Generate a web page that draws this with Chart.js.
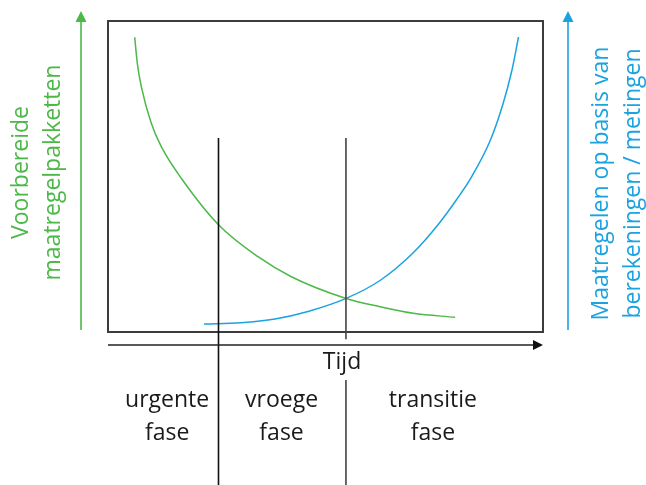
<!DOCTYPE html>
<html>
<head>
<meta charset="utf-8">
<script src="https://cdn.jsdelivr.net/npm/chart.js@4.4.1/dist/chart.umd.min.js"></script>
<style>
  html, body { margin: 0; padding: 0; background: #fff; }
  #wrap { width: 646px; height: 485px; position: relative; }
</style>
</head>
<body>
<div id="wrap"><canvas id="myChart"></canvas></div>
<script>
// time runs 0..100 across the box, level 0..100 up the box
const greenX = [6.14, 6.74, 7.66, 9.95, 12.25, 17.01, 25.45, 34.48, 42.14, 54.75, 62.53, 70.18, 79.77];
const greenY = [94.76, 86.4, 78.87, 67.11, 59.58, 49.1, 34.41, 24.21, 17.78, 10.8, 8.14, 6.01, 4.73];
const blueX = [22.07, 30.57, 38.39, 45.98, 54.75, 62.53, 70.11, 75.63, 80.23, 83.68, 87.82, 90.8, 92.87, 94.37];
const blueY = [2.57, 2.99, 4.18, 6.59, 10.8, 16.56, 25.4, 34.08, 42.77, 50.16, 61.41, 73.31, 84.24, 94.86];

const phaseBounds = [25.4, 54.7];
const phaseTop = 62.4;
const phaseLabels = [["urgente", "fase"], ["vroege", "fase"], ["transitie", "fase"]];
const phaseLabelX = [13.6, 39.9, 74.7];
const timeLabel = "Tijd";
const timeLabelX = 53.8;
const leftTitle = ["Voorbereide", "maatregelpakketten"];
const rightTitle = ["Maatregelen op basis van", "berekeningen / metingen"];

const GREEN = "#4cb848";
const BLUE = "#1ba3e1";
const FONT = '23px "Open Sans"';

function toPoints(xs, ys) {
    return xs.map(function (x, i) { return { x: x, y: ys[i] }; });
}

var line1 = [{ x: phaseBounds[0], y: phaseTop }, { x: phaseBounds[0], y: -50 }];
var line2 = [
    { x: phaseBounds[1], y: phaseTop }, { x: phaseBounds[1], y: -2.3 },
    { x: phaseBounds[1], y: null },
    { x: phaseBounds[1], y: -15.4 }, { x: phaseBounds[1], y: -50 }
];

function arrowHead(ctx, x, y, dir, color, len, half) {
    ctx.save();
    ctx.fillStyle = color;
    ctx.translate(x, y);
    ctx.rotate(dir);
    ctx.beginPath();
    ctx.moveTo(0, 0);
    ctx.lineTo(-len, -half);
    ctx.lineTo(-len, half);
    ctx.closePath();
    ctx.fill();
    ctx.restore();
}

function rotatedLines(ctx, lines, baseX, cy, gap, color) {
    ctx.save();
    ctx.fillStyle = color;
    ctx.font = FONT;
    ctx.textAlign = "center";
    ctx.textBaseline = "alphabetic";
    lines.forEach(function (t, i) {
        ctx.save();
        ctx.translate(baseX + i * gap, cy);
        ctx.rotate(-Math.PI / 2);
        ctx.fillText(t, 0, 0);
        ctx.restore();
    });
    ctx.restore();
}

const decor = {
    id: "decor",
    beforeDatasetsDraw: function (chart) {
        var ctx = chart.ctx, a = chart.chartArea;
        ctx.save();
        ctx.strokeStyle = "#3c3c3c";
        ctx.lineWidth = 2;
        ctx.strokeRect(a.left, a.top, a.right - a.left, a.bottom - a.top);
        ctx.restore();
    },
    afterDraw: function (chart) {
        var ctx = chart.ctx, a = chart.chartArea;
        var xs = chart.scales.x;

        // side arrows
        ctx.save();
        ctx.lineWidth = 1.6;
        ctx.strokeStyle = GREEN;
        ctx.beginPath();
        ctx.moveTo(a.left - 27, a.bottom - 2);
        ctx.lineTo(a.left - 27, a.top - 6);
        ctx.stroke();
        arrowHead(ctx, a.left - 27, a.top - 10, -Math.PI / 2, GREEN, 11, 5.5);
        ctx.strokeStyle = BLUE;
        ctx.beginPath();
        ctx.moveTo(a.right + 25, a.bottom - 2);
        ctx.lineTo(a.right + 25, a.top - 6);
        ctx.stroke();
        arrowHead(ctx, a.right + 25, a.top - 10, -Math.PI / 2, BLUE, 11, 5.5);

        // time arrow
        ctx.strokeStyle = "#222";
        ctx.beginPath();
        ctx.moveTo(a.left, a.bottom + 13);
        ctx.lineTo(a.right - 6, a.bottom + 13);
        ctx.stroke();
        arrowHead(ctx, a.right, a.bottom + 13, 0, "#111", 10, 5);
        ctx.restore();

        // texts
        ctx.save();
        ctx.font = FONT;
        ctx.fillStyle = "#1a1a1a";
        ctx.textAlign = "center";
        ctx.textBaseline = "alphabetic";
        ctx.fillText(timeLabel, xs.getPixelForValue(timeLabelX), a.bottom + 37);
        phaseLabels.forEach(function (pair, i) {
            var px = xs.getPixelForValue(phaseLabelX[i]);
            ctx.fillText(pair[0], px, a.bottom + 75);
            ctx.fillText(pair[1], px, a.bottom + 108);
        });
        ctx.restore();

        var cy = (a.top + a.bottom) / 2;
        rotatedLines(ctx, leftTitle, a.left - 80, cy - 4, 32, GREEN);
        rotatedLines(ctx, rightTitle, a.right + 65, cy + 7, 32, BLUE);
    }
};

new Chart("myChart", {
    type: "scatter",
    data: {
        datasets: [
            { data: line1, showLine: true, borderColor: "#111", borderWidth: 1.6, pointRadius: 0, clip: false, spanGaps: false },
            { data: line2, showLine: true, borderColor: "#444", borderWidth: 1.6, pointRadius: 0, clip: false, spanGaps: false },
            { data: toPoints(greenX, greenY), showLine: true, borderColor: GREEN, borderWidth: 1.5, pointRadius: 0, cubicInterpolationMode: "monotone", clip: false },
            { data: toPoints(blueX, blueY), showLine: true, borderColor: BLUE, borderWidth: 1.5, pointRadius: 0, cubicInterpolationMode: "monotone", clip: false }
        ]
    },
    options: {
        responsive: true,
        maintainAspectRatio: false,
        animation: false,
        events: [],
        layout: { padding: { left: 108, right: 103, top: 21, bottom: 153 } },
        scales: {
            x: { type: "linear", min: 0, max: 100, display: false },
            y: { type: "linear", min: 0, max: 100, display: false }
        },
        plugins: {
            legend: { display: false },
            tooltip: { enabled: false }
        }
    },
    plugins: [decor]
});
</script>
</body>
</html>
